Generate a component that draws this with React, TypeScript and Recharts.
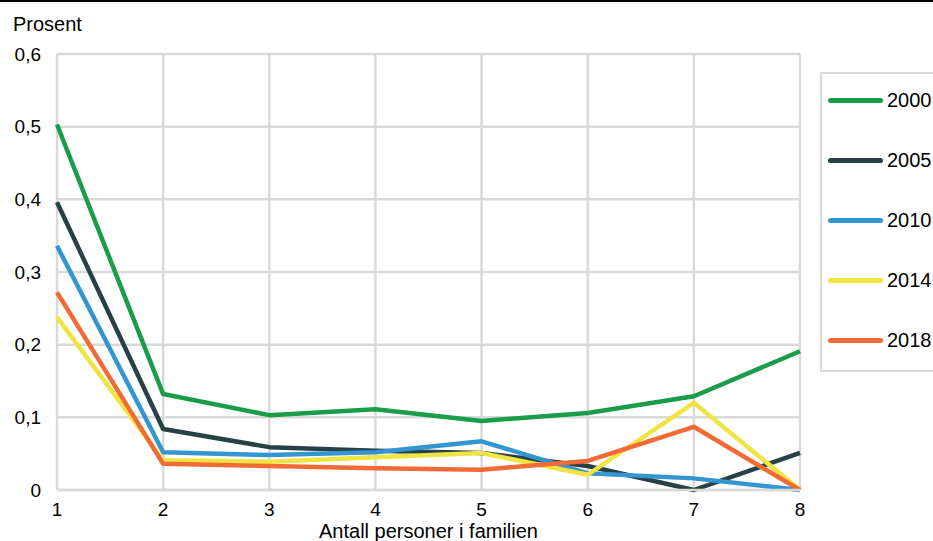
import { LineChart, Line, XAxis, YAxis, CartesianGrid } from 'recharts';

const persons = [1, 2, 3, 4, 5, 6, 7, 8];
const years = ['2000', '2005', '2010', '2014', '2018'];
const colors = ['#1a9d49', '#274247', '#3396d3', '#f0e442', '#f26a36'];

const v2000 = [0.503, 0.132, 0.103, 0.111, 0.095, 0.106, 0.129, 0.191];
const v2005 = [0.396, 0.084, 0.059, 0.054, 0.051, 0.033, 0.0, 0.051];
const v2010 = [0.336, 0.052, 0.048, 0.052, 0.067, 0.023, 0.016, 0.0];
const v2014 = [0.238, 0.041, 0.039, 0.045, 0.051, 0.021, 0.12, 0.0];
const v2018 = [0.272, 0.036, 0.033, 0.03, 0.028, 0.04, 0.087, 0.0];

const yTicks = [0, 0.1, 0.2, 0.3, 0.4, 0.5, 0.6];

const seriesValues = [v2000, v2005, v2010, v2014, v2018];

const data = persons.map((p, i) => {
  const row: Record<string, number> = { x: p };
  years.forEach((y, j) => {
    row[y] = seriesValues[j][i];
  });
  return row;
});

const font = '"Liberation Sans", Arial, sans-serif';

const fmt = (v: number) => (v === 0 ? '0' : v.toFixed(1).replace('.', ','));

export default function App() {
  return (
    <div
      style={{
        position: 'absolute',
        left: 0,
        top: 0,
        width: 933,
        height: 541,
        background: '#fff',
        fontFamily: font,
        overflow: 'hidden',
      }}
    >
      <div style={{ position: 'absolute', left: 0, top: 0, width: 933, height: 2, background: '#000' }} />
      <div style={{ position: 'absolute', left: 13, top: 13, fontSize: 20, color: '#000' }}>Prosent</div>
      <LineChart
        width={933}
        height={541}
        data={data}
        margin={{ top: 54, right: 133, left: 12, bottom: 0 }}
      >
        <CartesianGrid stroke="#d9d9d9" strokeWidth={2.5} />
        <XAxis
          dataKey="x"
          type="number"
          domain={[1, 8]}
          ticks={persons}
          height={51}
          axisLine={{ stroke: '#d9d9d9', strokeWidth: 2.5 }}
          tickLine={false}
          tick={{ fill: '#000', fontSize: 19, fontFamily: font }}
          tickMargin={7}
          label={{
            value: 'Antall personer i familien',
            position: 'insideBottom',
            offset: 3,
            fill: '#000',
            fontSize: 20,
            fontFamily: font,
          }}
        />
        <YAxis
          type="number"
          domain={[0, 0.6]}
          ticks={yTicks}
          width={45}
          axisLine={false}
          tickLine={false}
          tickFormatter={fmt}
          tick={{ fill: '#000', fontSize: 19, fontFamily: font }}
          tickMargin={10}
        />
        {years.map((y, i) => (
          <Line
            key={y}
            dataKey={y}
            type="linear"
            stroke={colors[i]}
            strokeWidth={4.5}
            dot={false}
            activeDot={false}
            isAnimationActive={false}
            strokeLinejoin="round"
          />
        ))}
      </LineChart>
      <div
        style={{
          position: 'absolute',
          left: 820,
          top: 72,
          width: 130,
          height: 300,
          border: '2px solid #d9d9d9',
          boxSizing: 'border-box',
          background: '#fff',
        }}
      >
        {years.map((y, i) => (
          <div
            key={y}
            style={{ position: 'absolute', left: 6, top: 15 + i * 60, display: 'flex', alignItems: 'center', fontSize: 20 }}
          >
            <div style={{ width: 55, height: 5, borderRadius: 3, background: colors[i], marginRight: 4 }} />
            <span>{y}</span>
          </div>
        ))}
      </div>
    </div>
  );
}
